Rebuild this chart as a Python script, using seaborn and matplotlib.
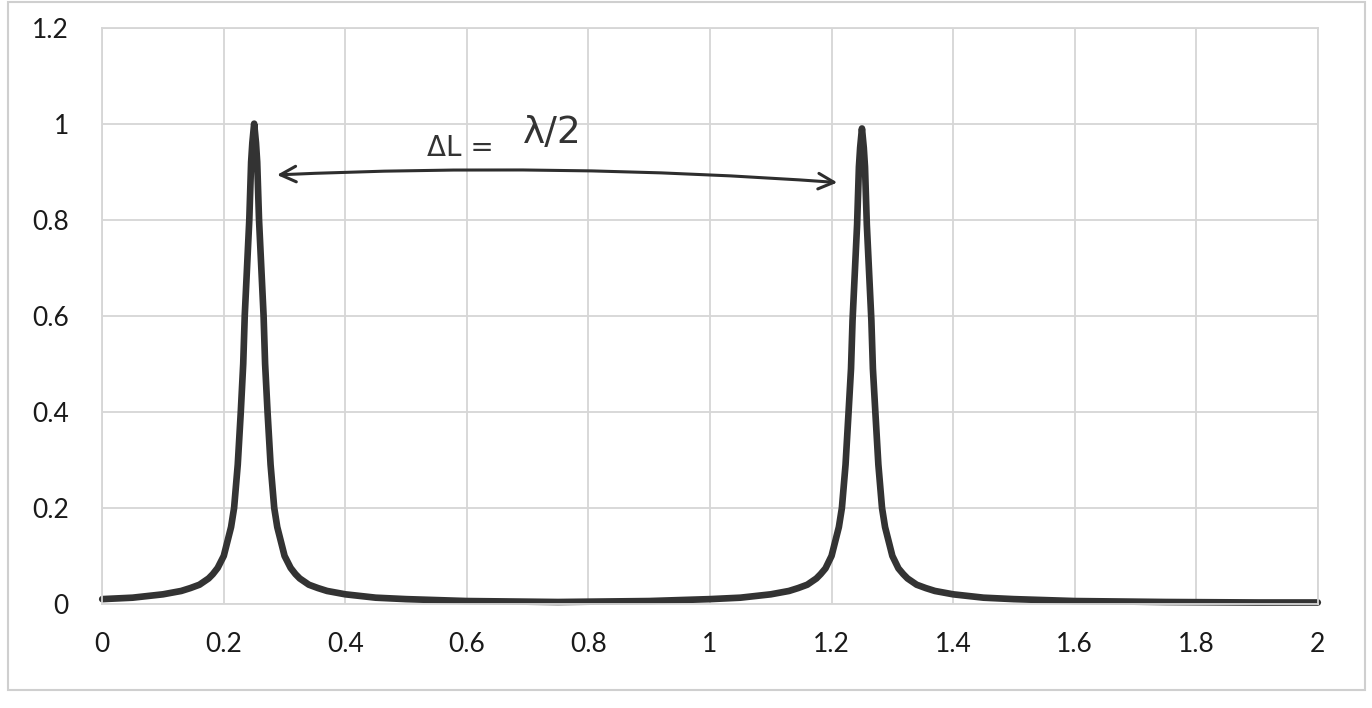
import matplotlib
matplotlib.use("Agg")
import matplotlib.pyplot as plt
import seaborn as sns
from matplotlib.patches import Rectangle

# values (two sharp resonance peaks)
x_vals = [0.00, 0.05, 0.10, 0.13, 0.145, 0.16, 0.175, 0.182, 0.19, 0.20,
          0.206, 0.212, 0.217, 0.223, 0.228, 0.232, 0.2345, 0.242, 0.245, 0.247,
          0.25, 0.253, 0.255, 0.258, 0.2655, 0.268, 0.272, 0.277, 0.283, 0.288,
          0.294, 0.30, 0.31, 0.318, 0.325, 0.34, 0.355, 0.37, 0.40, 0.45,
          0.50, 0.60, 0.75,
          0.90, 1.00, 1.05, 1.10, 1.13, 1.145, 1.16, 1.175, 1.182, 1.19,
          1.20, 1.206, 1.212, 1.217, 1.223, 1.228, 1.232, 1.2345, 1.242, 1.245,
          1.247, 1.25, 1.253, 1.255, 1.258, 1.2655, 1.268, 1.272, 1.277, 1.283,
          1.288, 1.294, 1.30, 1.31, 1.318, 1.325, 1.34, 1.355, 1.37, 1.40,
          1.45, 1.50, 1.60, 1.75, 1.90, 2.00]
y_vals = [0.010, 0.013, 0.020, 0.027, 0.033, 0.040, 0.053, 0.062, 0.075, 0.10,
          0.13, 0.16, 0.20, 0.29, 0.40, 0.50, 0.60, 0.80, 0.92, 0.96,
          1.00, 0.96, 0.92, 0.80, 0.60, 0.50, 0.40, 0.29, 0.20, 0.16,
          0.13, 0.10, 0.075, 0.062, 0.053, 0.040, 0.033, 0.027, 0.020, 0.013,
          0.010, 0.006, 0.004,
          0.006, 0.010, 0.013, 0.020, 0.027, 0.033, 0.040, 0.053, 0.062, 0.074,
          0.10, 0.13, 0.16, 0.20, 0.29, 0.40, 0.49, 0.59, 0.79, 0.91,
          0.95, 0.99, 0.95, 0.91, 0.79, 0.59, 0.49, 0.40, 0.29, 0.20,
          0.16, 0.13, 0.10, 0.074, 0.062, 0.053, 0.040, 0.033, 0.027, 0.020,
          0.013, 0.010, 0.006, 0.004, 0.003, 0.003]

x_ticks = [0, 0.2, 0.4, 0.6, 0.8, 1, 1.2, 1.4, 1.6, 1.8, 2]
x_labels = ["0", "0.2", "0.4", "0.6", "0.8", "1", "1.2", "1.4", "1.6", "1.8", "2"]
y_ticks = [0, 0.2, 0.4, 0.6, 0.8, 1, 1.2]
y_labels = ["0", "0.2", "0.4", "0.6", "0.8", "1", "1.2"]

sns.set_style("white")
plt.rcParams['font.family'] = ['Lato', 'DejaVu Sans']

fig = plt.figure(figsize=(13.72, 7.08), dpi=100)
ax = fig.add_axes([0.0745, 0.147, 0.886, 0.814])

ln = sns.lineplot(x=x_vals, y=y_vals, color="#333333", linewidth=4.8, ax=ax)
for l in ln.lines:
    l.set_clip_on(False)
    l.set_solid_joinstyle("round")
    l.set_solid_capstyle("round")

ax.set_xlim(0, 2)
ax.set_ylim(0, 1.2)
ax.set_xticks(x_ticks)
ax.set_xticklabels(x_labels)
ax.set_yticks(y_ticks)
ax.set_yticklabels(y_labels)
ax.tick_params(axis="both", length=0, labelsize=19, labelcolor="#1a1a1a")
ax.tick_params(axis="x", pad=20)
ax.tick_params(axis="y", pad=24)
ax.grid(True, color="#d6d6d6", linewidth=1.3)
ax.set_axisbelow(True)
for s in ax.spines.values():
    s.set_color("#d6d6d6")
    s.set_linewidth(1.3)
ax.set_xlabel("")
ax.set_ylabel("")

# handwritten annotation
ax.annotate("", xy=(0.283, 0.893), xytext=(1.214, 0.877),
            arrowprops=dict(arrowstyle="<->", color="#2e2e2e", lw=2.2,
                            mutation_scale=28,
                            connectionstyle="arc3,rad=0.03"))
ax.text(0.59, 0.95, "ΔL =", fontsize=20, color="#333333",
        family=['DejaVu Sans'], ha="center", va="center")
ax.text(0.74, 0.98, "λ/2", fontsize=27, color="#333333",
        family=['DejaVu Sans'], ha="center", va="center")

fig.patches.append(Rectangle((8 / 1372, 18 / 708), 1357 / 1372, 688 / 708,
                             transform=fig.transFigure, fill=False,
                             edgecolor="#cfcfcf", linewidth=1.5))

plt.savefig("out.png", dpi=100)
